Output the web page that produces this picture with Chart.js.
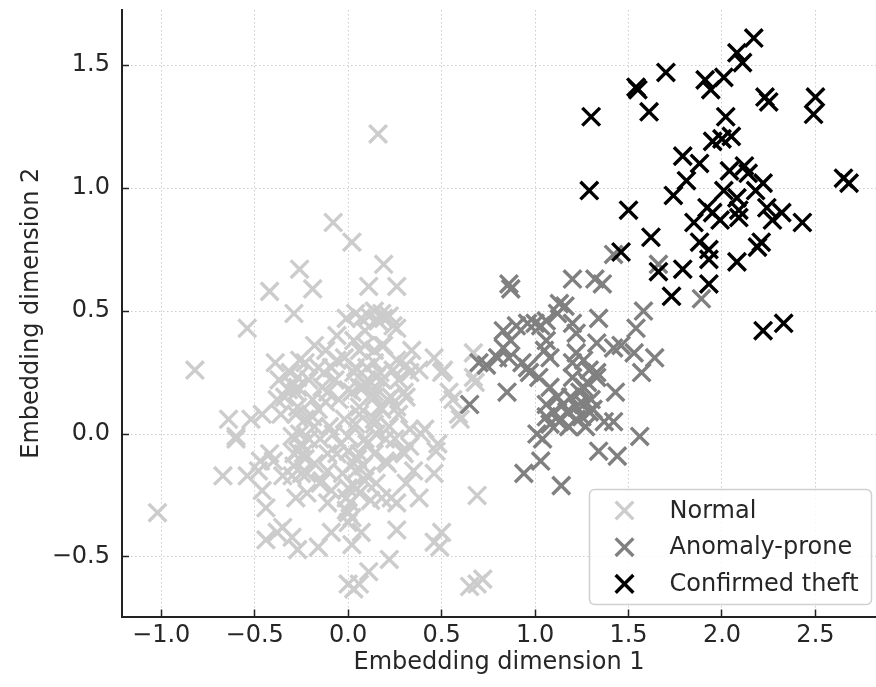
<!DOCTYPE html>
<html>
<head>
<meta charset="utf-8">
<script src="https://cdn.jsdelivr.net/npm/chart.js@4.4.1/dist/chart.umd.min.js"></script>
<style>
  html, body { margin: 0; padding: 0; background: #fff; }
  canvas { display: block; }
</style>
</head>
<body>
<canvas id="embeddingChart" width="876" height="687"></canvas>
<script>
const seriesNames = ['Normal', 'Anomaly-prone', 'Confirmed theft'];

// [embedding dim 1, embedding dim 2]
const normal = [
  [0.16,1.22],
  [-0.08,0.86],[0.02,0.78],[0.19,0.69],[-0.26,0.67],[-0.19,0.59],[-0.42,0.58],[0.11,0.60],[0.26,0.60],
  [-0.29,0.49],[-0.54,0.43],[-0.82,0.26],[-1.02,-0.32],
  [0.04,0.49],[0.18,0.49],[0.22,0.48],[0.09,0.42],[0.26,0.43],[0.18,0.36],[0.34,0.34],[0.06,0.34],
  [0.46,0.31],[0.50,0.25],[0.31,0.28],[0.24,0.26],[0.14,0.29],[0.04,0.27],[0.09,0.21],[0.18,0.22],
  [0.27,0.22],[0.02,0.17],[0.14,0.15],[0.23,0.15],[0.31,0.15],[0.06,0.11],[0.18,0.10],[0.27,0.08],
  [0.04,0.04],[0.14,0.04],[0.22,0.03],[0.41,0.02],[0.39,0.00],[0.09,-0.02],[0.25,-0.02],[0.48,-0.04],
  [0.67,0.33],[0.67,0.23],[0.56,0.14],[0.59,0.08],[0.54,0.17],[0.51,0.26],[0.38,0.26],
  [-0.01,0.47],[-0.06,0.40],[-0.12,0.34],[-0.18,0.36],[-0.39,0.29],[-0.31,0.25],[-0.37,0.22],
  [-0.23,0.29],[-0.16,0.27],[-0.09,0.27],[-0.02,0.31],[-0.21,0.22],[-0.14,0.19],[-0.07,0.22],
  [-0.34,0.15],[-0.28,0.17],[-0.27,0.11],[-0.19,0.14],[-0.12,0.13],[-0.05,0.14],[0.00,0.18],
  [-0.64,0.06],[-0.60,-0.01],[-0.52,0.06],[-0.46,0.08],[-0.28,0.08],[-0.23,0.06],[-0.18,0.03],
  [-0.10,0.03],[-0.02,0.06],[-0.30,-0.01],[-0.21,-0.02],[0.00,-0.01],
  [0.03,0.25],[0.10,0.27],[0.19,0.36],[0.09,0.36],[0.24,0.44],[0.33,0.25],[0.30,0.17],[0.26,0.11],
  [0.14,0.17],[0.06,0.19],[0.21,0.14],[0.15,0.00],[0.33,0.02],[0.14,0.06],
  [-0.60,-0.02],[-0.67,-0.17],[-0.54,-0.17],[-0.48,-0.15],[-0.40,-0.11],[-0.46,-0.23],[-0.44,-0.30],
  [-0.28,-0.26],[-0.30,-0.17],[-0.24,-0.08],[-0.25,-0.16],[-0.18,-0.12],[-0.14,-0.19],[-0.09,-0.23],
  [-0.11,-0.08],[-0.03,-0.16],[0.00,-0.07],[0.00,-0.32],[0.00,-0.36],[-0.09,-0.40],[-0.16,-0.46],
  [-0.35,-0.38],[-0.38,-0.40],[-0.44,-0.43],[-0.30,-0.42],[-0.27,-0.47],[0.00,-0.61],
  [0.02,-0.45],[0.07,-0.40],[0.22,-0.51],[0.11,-0.56],[0.06,-0.61],[0.03,-0.63],[0.26,-0.39],
  [0.46,-0.44],[0.50,-0.40],[0.49,-0.46],[0.69,-0.25],[0.47,-0.07],[0.46,-0.16],[0.35,-0.15],
  [0.38,-0.26],[0.26,-0.28],[0.23,-0.26],[0.33,-0.05],[0.06,-0.08],[0.20,-0.11],[0.29,-0.07],
  [0.31,-0.20],[0.18,-0.26],[0.09,-0.19],[0.06,-0.24],[0.02,-0.34],[0.69,-0.61],[0.65,-0.62],[0.72,-0.59],
  [0.03,-0.12],[0.10,-0.04],[0.30,-0.08],[0.21,-0.12],[0.10,-0.17],[0.03,-0.21],[-0.15,-0.20],
  [-0.22,-0.24],[-0.35,-0.17],[-0.29,-0.13],[-0.01,-0.31],[0.12,-0.27],[-0.11,-0.28],[-0.08,0.00],
  [-0.26,0.30],[-0.06,0.30],[-0.13,0.25],[0.26,0.30],[0.14,0.34],[0.03,0.38],[-0.27,0.19],[-0.38,0.14],
  [-0.42,-0.08],[-0.47,-0.11],[-0.29,-0.08],[-0.22,-0.16],[-0.11,-0.15],[0.15,-0.20],[0.14,-0.08],
  [-0.04,-0.04],[-0.15,-0.02],[-0.36,0.08],[-0.26,0.00],[-0.11,0.17],[0.17,0.25],[0.17,0.11],[0.06,0.08],
  [-0.25,-0.05],[-0.06,-0.08],[0.11,0.48],[0.14,0.50],[0.07,0.47],[0.60,0.06],[0.68,0.21],
  [-0.30,0.20],[-0.32,0.18],[-0.27,0.23],[-0.25,-0.04],[-0.27,-0.07],[-0.23,-0.10],[0.05,-0.10],
  [0.08,-0.13],[0.04,-0.15],[0.12,0.21],[0.15,0.23],[0.08,0.19],[-0.01,-0.26],[0.01,-0.28],
  [0.00,-0.22],[0.16,0.46],[0.19,0.47],[-0.19,0.07],[-0.16,0.10],[0.20,-0.02]
];

const anomalyProne = [
  [0.86,0.61],[0.87,0.59],[1.20,0.63],[1.32,0.63],[1.36,0.61],[1.42,0.73],[1.66,0.69],[1.89,0.55],
  [1.58,0.50],[1.54,0.43],[1.46,0.36],[1.53,0.33],[1.57,0.25],[1.64,0.31],[1.34,0.47],[1.33,0.37],
  [1.22,0.41],[1.16,0.52],[1.13,0.53],[1.12,0.49],[1.06,0.46],[1.03,0.44],[1.00,0.45],[0.96,0.45],
  [0.90,0.44],[0.83,0.42],[1.20,0.45],[1.06,0.38],[0.87,0.38],[0.83,0.35],[0.86,0.31],[0.80,0.31],
  [0.70,0.29],[0.74,0.28],[1.05,0.34],[1.08,0.31],[0.93,0.29],[0.96,0.27],[0.97,0.25],[1.22,0.33],
  [1.20,0.29],[1.26,0.30],[1.29,0.26],[1.33,0.25],[1.33,0.23],[1.20,0.23],[1.42,0.35],[1.02,0.23],
  [1.08,0.19],[1.28,0.21],[1.26,0.19],[1.43,0.17],[0.85,0.17],[1.12,0.15],[1.30,0.14],[0.65,0.12],
  [1.06,0.12],[1.26,0.12],[1.22,0.11],[1.10,0.09],[1.17,0.09],[1.29,0.09],[1.31,0.10],[1.06,0.07],
  [1.22,0.06],[1.08,0.04],[1.18,0.03],[1.37,0.05],[1.42,0.05],[1.01,0.00],[1.04,-0.02],[1.56,-0.01],
  [1.34,-0.07],[1.44,-0.09],[1.03,-0.11],[0.94,-0.16],[1.14,-0.21],
  [1.15,0.12],[1.19,0.15],[1.24,0.17],[1.13,0.05],[1.27,0.03],[1.25,0.07]
];

const confirmedTheft = [
  [2.17,1.61],[2.08,1.55],[2.11,1.51],[1.70,1.47],[1.91,1.44],[2.01,1.45],[1.94,1.40],[1.54,1.41],[1.55,1.40],
  [2.23,1.37],[2.25,1.35],[2.50,1.37],[2.49,1.30],[1.30,1.29],[1.61,1.31],[2.02,1.29],[2.05,1.21],[1.95,1.19],
  [2.00,1.20],[1.79,1.13],[1.88,1.10],[2.04,1.07],[2.12,1.09],[2.14,1.06],[1.81,1.03],[2.22,1.02],[2.65,1.04],
  [2.68,1.02],[1.29,0.99],[1.74,0.97],[2.01,0.99],[2.18,0.99],[2.08,0.96],[1.92,0.92],[1.95,0.90],[2.09,0.91],
  [1.50,0.91],[2.24,0.92],[2.32,0.90],[1.85,0.86],[1.99,0.87],[2.09,0.88],[2.27,0.87],[2.43,0.86],[1.62,0.80],
  [1.88,0.78],[2.21,0.78],[2.19,0.76],[1.93,0.75],[1.93,0.71],[1.46,0.74],[2.08,0.70],[1.79,0.67],[1.66,0.66],
  [1.93,0.61],[1.73,0.56],[2.22,0.42],[2.33,0.45]
];

const xTicks = [-1.0, -0.5, 0.0, 0.5, 1.0, 1.5, 2.0, 2.5];
const yTicks = [-0.5, 0.0, 0.5, 1.0, 1.5];
const xRange = [-1.21, 2.824];
const yRange = [-0.742, 1.724];

const colors = ['#cccccc', '#808080', '#000000'];
const FONT = 'DejaVu Sans';
const TEXT = '#262626';

function toXY(pairs) {
  return pairs.map(p => ({ x: p[0], y: p[1] }));
}

function fmt(v) {
  // matplotlib style unicode minus
  return v < 0 ? '\u2212' + Math.abs(v).toFixed(1) : v.toFixed(1);
}

function makeSet(i, pts) {
  return {
    label: seriesNames[i],
    data: toXY(pts),
    pointStyle: 'crossRot',
    pointRadius: 12.5,
    borderColor: colors[i],
    backgroundColor: colors[i],
    borderWidth: 3.4,
    order: 3 - i
  };
}

// no extra room for edge labels, the plot fills the canvas like the original
function noEdgePad(s) {
  s.paddingLeft = 0;
  s.paddingRight = 0;
  s.paddingTop = 0;
  s.paddingBottom = 0;
}

// legend box drawn inside the plot, lower right
const boxLegend = {
  id: 'boxLegend',
  afterDraw(chart) {
    const ctx = chart.ctx;
    const area = chart.chartArea;
    const w = 282, h = 115;
    const x0 = area.right - w - 4.5;
    const y0 = area.bottom - h - 12;
    ctx.save();
    ctx.beginPath();
    ctx.roundRect(x0, y0, w, h, 5);
    ctx.fillStyle = 'rgba(255,255,255,0.8)';
    ctx.fill();
    ctx.lineWidth = 1.5;
    ctx.strokeStyle = '#d0d0d0';
    ctx.stroke();

    ctx.font = '24px "' + FONT + '"';
    ctx.textBaseline = 'middle';
    ctx.textAlign = 'left';
    chart.data.datasets.forEach((ds, i) => {
      const cy = y0 + 21 + i * 36.7;
      const cx = x0 + 35;
      const r = ds.pointRadius * Math.SQRT1_2;
      ctx.beginPath();
      ctx.moveTo(cx - r, cy - r);
      ctx.lineTo(cx + r, cy + r);
      ctx.moveTo(cx - r, cy + r);
      ctx.lineTo(cx + r, cy - r);
      ctx.lineWidth = ds.borderWidth;
      ctx.strokeStyle = ds.borderColor;
      ctx.stroke();
      ctx.fillStyle = TEXT;
      ctx.fillText(ds.label, x0 + 80, cy + 1);
    });
    ctx.restore();
  }
};

const ctx = document.getElementById('embeddingChart').getContext('2d');
new Chart(ctx, {
  type: 'scatter',
  data: {
    datasets: [
      makeSet(0, normal),
      makeSet(1, anomalyProne),
      makeSet(2, confirmedTheft)
    ]
  },
  options: {
    responsive: false,
    animation: false,
    events: [],
    layout: {
      autoPadding: false,
      padding: { top: 10, right: 0, bottom: 0, left: 0 }
    },
    plugins: {
      legend: { display: false },
      tooltip: { enabled: false }
    },
    scales: {
      x: {
        type: 'linear',
        position: 'bottom',
        min: xRange[0],
        max: xRange[1],
        afterBuildTicks: s => { s.ticks = xTicks.map(v => ({ value: v })); },
        afterFit: s => { s.height = 70.5; noEdgePad(s); },
        ticks: {
          callback: fmt,
          padding: 12,
          color: TEXT,
          font: { family: FONT, size: 24 }
        },
        grid: { color: '#cccccc', lineWidth: 1, tickLength: -7, tickColor: '#222', tickWidth: 1.5 },
        border: { display: true, color: '#222', width: 2, dash: [1.5, 2.5] },
        title: {
          display: true,
          text: 'Embedding dimension 1',
          color: TEXT,
          font: { family: FONT, size: 24 },
          padding: { top: 0, bottom: 10 }
        }
      },
      y: {
        type: 'linear',
        position: 'left',
        min: yRange[0],
        max: yRange[1],
        afterBuildTicks: s => { s.ticks = yTicks.map(v => ({ value: v })); },
        afterFit: s => { s.width = 122; noEdgePad(s); },
        ticks: {
          callback: fmt,
          padding: 19,
          color: TEXT,
          font: { family: FONT, size: 24 }
        },
        grid: { color: '#cccccc', lineWidth: 1, tickLength: -7, tickColor: '#222', tickWidth: 1.5 },
        border: { display: true, color: '#222', width: 2, dash: [1.5, 2.5] },
        title: {
          display: true,
          text: 'Embedding dimension 2',
          color: TEXT,
          font: { family: FONT, size: 24 },
          padding: { top: 17, bottom: 0 }
        }
      }
    }
  },
  plugins: [boxLegend]
});
</script>
</body>
</html>
